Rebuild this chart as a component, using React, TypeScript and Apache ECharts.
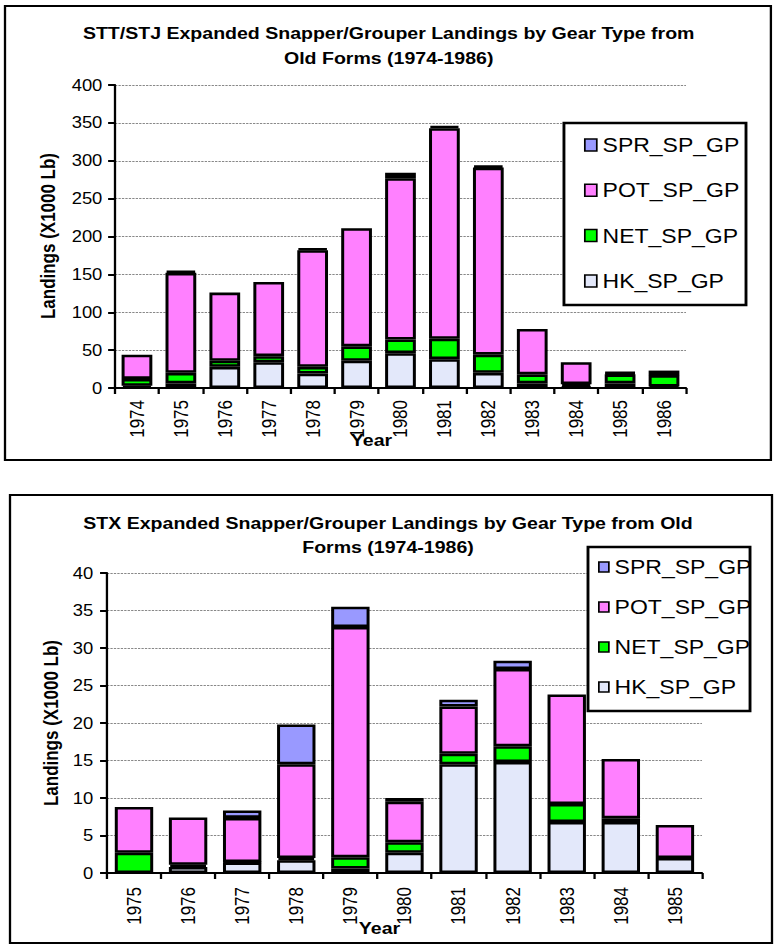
import React, { useEffect, useRef } from "react";
import * as echarts from "echarts";

// ---------- data ----------
const years1 = ["1974", "1975", "1976", "1977", "1978", "1979", "1980", "1981", "1982", "1983", "1984", "1985", "1986"];
const hk1 = [3, 6, 28, 34, 19, 36, 46, 38, 20, 6, 2, 6, 2];
const net1 = [9, 14, 8, 8, 9, 19, 18, 27, 24, 12, 3, 12, 15];
const pot1 = [32, 132, 90, 98, 154, 156, 213, 278, 247, 60, 29, 1.5, 6];
const spr1 = [0, 2.5, 0, 0, 2.5, 0, 7, 3, 2.5, 0, 0, 1, 0];

const years2 = ["1975", "1976", "1977", "1978", "1979", "1980", "1981", "1982", "1983", "1984", "1985"];
const hk2 = [0, 0.8, 1.4, 1.7, 0.6, 2.7, 14.5, 14.8, 6.8, 6.8, 2];
const net2 = [2.7, 0.3, 0.05, 0.3, 1.5, 1.4, 1.4, 2.1, 2.4, 0.5, 0];
const pot2 = [6.1, 6.3, 5.9, 12.5, 30.7, 5.4, 6.3, 10.3, 14.6, 7.9, 4.4];
const spr2 = [0, 0, 1.0, 5.3, 2.7, 0.5, 0.9, 1.1, 0, 0, 0];

const seriesNames = ["HK_SP_GP", "NET_SP_GP", "POT_SP_GP", "SPR_SP_GP"];
const legendOrder = ["SPR_SP_GP", "POT_SP_GP", "NET_SP_GP", "HK_SP_GP"];
const colors = ["#E3E8FA", "#00FF00", "#FF80FF", "#9999FF"];

const title1 = ["STT/STJ Expanded Snapper/Grouper Landings by Gear Type from", "Old Forms (1974-1986)"];
const title2 = ["STX Expanded Snapper/Grouper Landings by Gear Type from Old", "Forms (1974-1986)"];
const yName = "Landings (X1000 Lb)";
const xName = "Year";

const SX = 1.15;
const FONT = '"Liberation Sans", Arial, sans-serif';

function mkX(data: string[], gi: number, margin: number) {
  return {
    type: "category",
    gridIndex: gi,
    data,
    boundaryGap: true,
    axisLine: { show: true, lineStyle: { color: "#000", width: 2 } },
    axisTick: { show: true, alignWithLabel: false, length: 6, lineStyle: { color: "#000", width: 2 } },
    axisLabel: { rotate: 90, margin, color: "#000", fontSize: 17, fontFamily: FONT },
    splitLine: { show: false },
  };
}

function mkY(gi: number, max: number, interval: number, margin: number) {
  return {
    type: "value",
    gridIndex: gi,
    min: 0,
    max,
    interval,
    axisLine: { show: true, lineStyle: { color: "#000", width: 2 } },
    axisTick: { show: true, length: 6, lineStyle: { color: "#000", width: 2 } },
    axisLabel: { margin, color: "#000", fontSize: 16, fontFamily: FONT },
    splitLine: { show: true, lineStyle: { color: "#888", width: 1, type: [2, 1] } },
  };
}

function mkSeries(vals: number[][], gi: number, stack: string, gap: string) {
  return vals.map((v, i) => ({
    name: seriesNames[i],
    type: "bar",
    stack,
    xAxisIndex: gi,
    yAxisIndex: gi,
    // zero segments are not drawn (no outline), as in the original
    data: v.map((x) => (x === 0 ? null : x)),
    barCategoryGap: gap,
    itemStyle: { color: colors[i], borderColor: "#000", borderWidth: 2.6 },
  }));
}

function mkLegend(left: number, top: number, iw: number, ih: number, gap: number) {
  return {
    show: true,
    orient: "vertical",
    left,
    top,
    padding: 0,
    z: 10,
    itemGap: gap,
    itemWidth: iw,
    itemHeight: ih,
    icon: "rect",
    selectedMode: false,
    data: legendOrder,
    itemStyle: { borderColor: "#000", borderWidth: 1.5 },
    textStyle: { color: "#000", fontSize: 20, fontFamily: FONT, lineHeight: 20 },
  };
}

function txt(text: string, x: number, y: number, size: number, rot = 0) {
  return {
    type: "text",
    x,
    y,
    rotation: rot,
    silent: true,
    z: 8,
    style: {
      text,
      align: "center",
      verticalAlign: "middle",
      fill: "#000",
      font: `bold ${size}px ${FONT}`,
    },
  };
}

function box(x: number, y: number, w: number, h: number, fill: string, lw: number, z: number) {
  return {
    type: "rect",
    silent: true,
    z,
    shape: { x, y, width: w, height: h },
    style: { fill, stroke: "#000", lineWidth: lw },
  };
}

export default function App() {
  const ref = useRef<HTMLDivElement>(null);
  useEffect(() => {
    if (!ref.current) return;
    const chart = echarts.init(ref.current, undefined, { renderer: "svg" });
    const option: any = {
      animation: false,
      backgroundColor: "#fff",
      textStyle: { fontFamily: FONT },
      grid: [
        { left: 100, top: 85, width: 496.5, height: 303 },
        { left: 93, top: 573, width: 517.4, height: 300 },
      ],
      xAxis: [mkX(years1, 0, 12), mkX(years2, 1, 14)],
      yAxis: [mkY(0, 400, 50, 11), mkY(1, 40, 5, 12)],
      legend: [mkLegend(507.8, 135, 10.4, 12, 25.3), mkLegend(520, 557, 8.7, 10, 20)],
      series: [
        ...mkSeries([hk1, net1, pot1, spr1], 0, "top", "30%"),
        ...mkSeries([hk2, net2, pot2, spr2], 1, "bottom", "29%"),
      ],
      graphic: [
        box(4.35, 6, 666, 454, "none", 2, 1),
        box(8.7, 495, 662.6, 448, "none", 2, 1),
        box(490.4, 123, 158.3, 182, "#fff", 2.5, 6),
        box(511.3, 547, 140.9, 164, "#fff", 2.5, 6),
        txt(title1[0], 338, 33, 17),
        txt(title1[1], 338, 58, 17),
        txt(title2[0], 337.4, 523, 17),
        txt(title2[1], 337.4, 547, 17),
        txt(yName, 41.7, 236, 17, Math.PI / 2),
        txt(yName, 44.3, 723, 17, Math.PI / 2),
        txt(xName, 323, 440, 17),
        txt(xName, 330, 928, 17),
      ],
    };
    chart.setOption(option);
    return () => chart.dispose();
  }, []);
  return (
    <div style={{ position: "fixed", left: 0, top: 0, width: 775, height: 945, overflow: "hidden", background: "#fff" }}>
      <div
        ref={ref}
        style={{ width: 775 / SX, height: 945, transform: `scaleX(${SX})`, transformOrigin: "0 0" }}
      />
    </div>
  );
}
